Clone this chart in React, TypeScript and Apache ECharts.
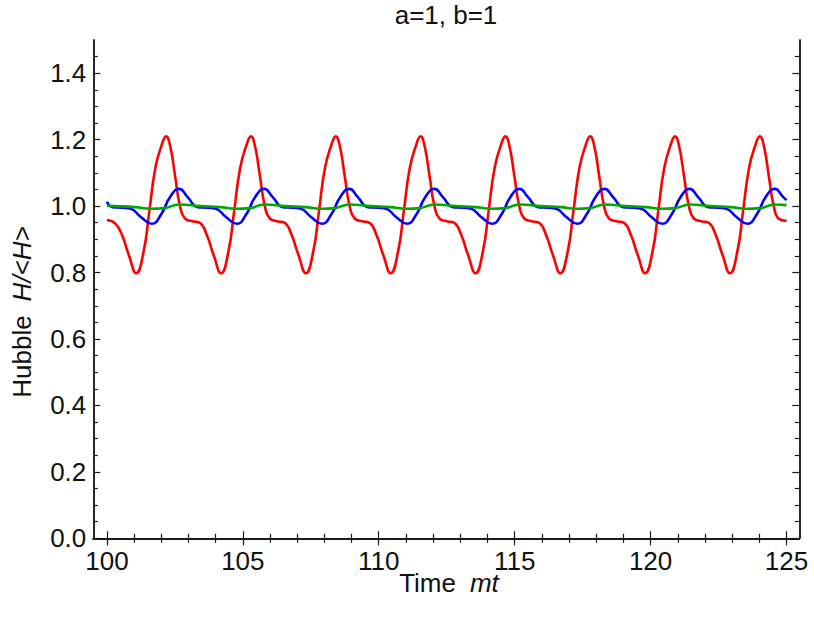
import React, { useEffect, useRef } from 'react';
import * as echarts from 'echarts';

// ---- Data ----
const titleText = 'a=1, b=1';

const xMajorTicks = [100, 105, 110, 115, 120, 125];
const xMinorTicks = [101, 102, 103, 104, 106, 107, 108, 109, 111, 112, 113, 114, 116, 117, 118, 119, 121, 122, 123, 124];
const yMajorTicks = [0, 0.2, 0.4, 0.6, 0.8, 1.0, 1.2, 1.4];
const yMinorTicks = [0.05, 0.1, 0.15, 0.25, 0.3, 0.35, 0.45, 0.5, 0.55, 0.65, 0.7, 0.75, 0.85, 0.9, 0.95, 1.05, 1.1, 1.15, 1.25, 1.3, 1.35, 1.45];

const redX = [
  100.00, 100.31, 100.56, 100.81, 101.08, 101.35, 101.56, 101.78, 102.00,
  102.18, 102.33, 102.51, 102.69, 102.88, 103.18, 103.43, 103.68, 103.93, 104.20, 104.47, 104.68, 104.90, 105.12,
  105.30, 105.45, 105.63, 105.81, 106.00, 106.30, 106.55, 106.80, 107.05, 107.32, 107.59, 107.80, 108.02, 108.24,
  108.42, 108.57, 108.75, 108.93, 109.12, 109.42, 109.67, 109.92, 110.17, 110.44, 110.71, 110.92, 111.14, 111.36,
  111.54, 111.69, 111.87, 112.05, 112.24, 112.54, 112.79, 113.04, 113.29, 113.56, 113.83, 114.04, 114.26, 114.48,
  114.66, 114.81, 114.99, 115.17, 115.36, 115.66, 115.91, 116.16, 116.41, 116.68, 116.95, 117.16, 117.38, 117.60,
  117.78, 117.93, 118.11, 118.29, 118.48, 118.78, 119.03, 119.28, 119.53, 119.80, 120.07, 120.28, 120.50, 120.72,
  120.90, 121.05, 121.23, 121.41, 121.60, 121.90, 122.15, 122.40, 122.65, 122.92, 123.19, 123.40, 123.62, 123.84,
  124.02, 124.17, 124.35, 124.53, 124.72, 125.00,
];
const redY = [
  0.958, 0.947, 0.912, 0.852, 0.798, 0.863, 0.984, 1.114, 1.18,
  1.21, 1.18, 1.09, 1.00, 0.962, 0.954, 0.949, 0.912, 0.852, 0.798, 0.863, 0.984, 1.114, 1.18,
  1.21, 1.18, 1.09, 1.00, 0.962, 0.954, 0.949, 0.912, 0.852, 0.798, 0.863, 0.984, 1.114, 1.18,
  1.21, 1.18, 1.09, 1.00, 0.962, 0.954, 0.949, 0.912, 0.852, 0.798, 0.863, 0.984, 1.114, 1.18,
  1.21, 1.18, 1.09, 1.00, 0.962, 0.954, 0.949, 0.912, 0.852, 0.798, 0.863, 0.984, 1.114, 1.18,
  1.21, 1.18, 1.09, 1.00, 0.962, 0.954, 0.949, 0.912, 0.852, 0.798, 0.863, 0.984, 1.114, 1.18,
  1.21, 1.18, 1.09, 1.00, 0.962, 0.954, 0.949, 0.912, 0.852, 0.798, 0.863, 0.984, 1.114, 1.18,
  1.21, 1.18, 1.09, 1.00, 0.962, 0.954, 0.949, 0.912, 0.852, 0.798, 0.863, 0.984, 1.114, 1.18,
  1.21, 1.18, 1.09, 1.00, 0.962, 0.956,
];

const blueX = [
  100.00, 100.21, 100.58, 100.88, 101.25, 101.65, 102.01,
  102.32, 102.66, 102.97, 103.34, 103.71, 104.01, 104.38, 104.78, 105.14,
  105.45, 105.79, 106.10, 106.47, 106.84, 107.14, 107.51, 107.91, 108.27,
  108.58, 108.92, 109.23, 109.60, 109.97, 110.27, 110.64, 111.04, 111.40,
  111.71, 112.05, 112.36, 112.73, 113.10, 113.40, 113.77, 114.17, 114.53,
  114.84, 115.18, 115.49, 115.86, 116.23, 116.53, 116.90, 117.30, 117.66,
  117.97, 118.31, 118.62, 118.99, 119.36, 119.66, 120.03, 120.43, 120.79,
  121.10, 121.44, 121.75, 122.12, 122.49, 122.79, 123.16, 123.56, 123.92,
  124.23, 124.57, 124.88, 125.00,
];
const blueY = [
  1.013, 0.997, 0.995, 0.992, 0.967, 0.947, 0.977,
  1.027, 1.052, 1.027, 0.997, 0.995, 0.992, 0.967, 0.947, 0.977,
  1.027, 1.052, 1.027, 0.997, 0.995, 0.992, 0.967, 0.947, 0.977,
  1.027, 1.052, 1.027, 0.997, 0.995, 0.992, 0.967, 0.947, 0.977,
  1.027, 1.052, 1.027, 0.997, 0.995, 0.992, 0.967, 0.947, 0.977,
  1.027, 1.052, 1.027, 0.997, 0.995, 0.992, 0.967, 0.947, 0.977,
  1.027, 1.052, 1.027, 0.997, 0.995, 0.992, 0.967, 0.947, 0.977,
  1.027, 1.052, 1.027, 0.997, 0.995, 0.992, 0.967, 0.947, 0.977,
  1.027, 1.052, 1.027, 1.018,
];

const greenX = [
  100.00, 100.33, 101.03, 101.63, 102.13,
  102.66, 103.46, 104.16, 104.76, 105.26,
  105.79, 106.59, 107.29, 107.89, 108.39,
  108.92, 109.72, 110.42, 111.02, 111.52,
  112.05, 112.85, 113.55, 114.15, 114.65,
  115.18, 115.98, 116.68, 117.28, 117.78,
  118.31, 119.11, 119.81, 120.41, 120.91,
  121.44, 122.24, 122.94, 123.54, 124.04,
  124.57, 125.00,
];
const greenY = [
  1.001, 1.000, 0.997, 0.992, 0.994,
  1.005, 1.000, 0.997, 0.992, 0.994,
  1.005, 1.000, 0.997, 0.992, 0.994,
  1.005, 1.000, 0.997, 0.992, 0.994,
  1.005, 1.000, 0.997, 0.992, 0.994,
  1.005, 1.000, 0.997, 0.992, 0.994,
  1.005, 1.000, 0.997, 0.992, 0.994,
  1.005, 1.000, 0.997, 0.992, 0.994,
  1.005, 1.003,
];

// ---- Layout / style ----
const X_MIN = 99.5;
const X_MAX = 125.47;
const Y_MIN = 0;
const Y_MAX = 1.5;
const FONT = 'Liberation Sans';
const INK = '#1a1a1a';
const FS = 26;

const frameLine = { show: true, lineStyle: { color: INK, width: 1.5 } };

function xAxisDef(position: string, ticks: number[], len: number, labels: boolean) {
  return {
    type: 'value',
    min: X_MIN,
    max: X_MAX,
    position,
    axisLine: frameLine,
    splitLine: { show: false },
    axisTick: { show: true, inside: true, length: len, customValues: ticks, lineStyle: { color: INK, width: 1.2 } },
    axisLabel: labels
      ? { show: true, customValues: ticks, margin: 10, fontSize: FS, fontFamily: FONT, color: '#111', formatter: (v: number) => String(v) }
      : { show: false },
  };
}

function yAxisDef(position: string, ticks: number[], len: number, labels: boolean) {
  return {
    type: 'value',
    min: Y_MIN,
    max: Y_MAX,
    position,
    axisLine: frameLine,
    splitLine: { show: false },
    axisTick: { show: true, inside: true, length: len, customValues: ticks, lineStyle: { color: INK, width: 1.2 } },
    axisLabel: labels
      ? { show: true, customValues: ticks, margin: 7, fontSize: FS, fontFamily: FONT, color: '#111', formatter: (v: number) => v.toFixed(1) }
      : { show: false },
  };
}

function lineSeries(name: string, xs: number[], ys: number[], color: string) {
  return {
    name,
    type: 'line',
    xAxisIndex: 0,
    yAxisIndex: 0,
    data: xs.map((x, i) => [x, ys[i]]),
    showSymbol: false,
    smooth: true,
    lineStyle: { color, width: 2.6 },
    itemStyle: { color },
  };
}

const richName = {
  n: { fontSize: FS, fontFamily: FONT, fill: '#111', color: '#111' },
  i: { fontSize: FS, fontFamily: FONT, fontStyle: 'italic', fill: '#111', color: '#111', padding: [0, 0, 0, 14] },
};

export default function App() {
  const ref = useRef<HTMLDivElement>(null);
  useEffect(() => {
    if (!ref.current) return;
    const chart = echarts.init(ref.current, null, { renderer: 'svg' });
    const option: any = {
      animation: false,
      backgroundColor: '#ffffff',
      grid: { left: 93.3, right: 14.7, top: 40, bottom: 78.7, outerBoundsMode: 'none' },
      xAxis: [
        xAxisDef('bottom', xMajorTicks, 7, true),
        xAxisDef('bottom', xMinorTicks, 4.5, false),
        xAxisDef('top', xMajorTicks, 7, false),
        xAxisDef('top', xMinorTicks, 4.5, false),
      ],
      yAxis: [
        yAxisDef('left', yMajorTicks, 7, true),
        yAxisDef('left', yMinorTicks, 4.5, false),
        yAxisDef('right', yMajorTicks, 7, false),
        yAxisDef('right', yMinorTicks, 4.5, false),
      ],
      series: [
        lineSeries('red', redX, redY, '#ff0000'),
        lineSeries('blue', blueX, blueY, '#0000ff'),
        lineSeries('green', greenX, greenY, '#00a800'),
      ],
      graphic: [
        {
          type: 'text',
          x: 446,
          y: 15,
          style: { text: titleText, fontSize: FS, fontFamily: FONT, fill: '#111', align: 'center', verticalAlign: 'middle' },
        },
        {
          type: 'text',
          x: 449,
          y: 583,
          style: {
            text: '{n|Time}{i|mt}',
            align: 'center',
            verticalAlign: 'middle',
            rich: richName,
          },
        },
        {
          type: 'text',
          x: 22,
          y: 312,
          rotation: Math.PI / 2,
          style: {
            text: '{n|Hubble}{i|H/<H>}',
            align: 'center',
            verticalAlign: 'middle',
            rich: richName,
          },
        },
      ],
    };
    chart.setOption(option);
    return () => chart.dispose();
  }, []);
  return (
    <div
      ref={ref}
      style={{ position: 'fixed', left: 0, top: 0, width: 814, height: 617, background: '#fff' }}
    />
  );
}
